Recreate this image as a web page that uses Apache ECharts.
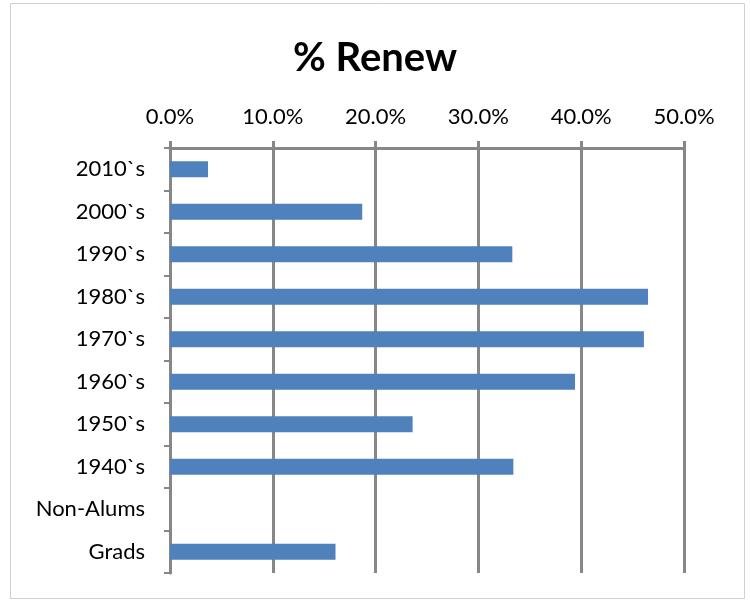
<!DOCTYPE html>
<html><head><meta charset="utf-8">
<script src="https://cdn.jsdelivr.net/npm/echarts@6/dist/echarts.min.js"></script>
<style>html,body{margin:0;padding:0;background:#fff}#c{width:750px;height:600px}</style>
</head><body><div id="c"></div>
<script>
var categories = ["2010`s","2000`s","1990`s","1980`s","1970`s","1960`s","1950`s","1940`s","Non-Alums","Grads"];
var renewValues = [0.037,0.187,0.333,0.465,0.461,0.394,0.236,0.334,0,0.161];
var xTicks = {min:0, max:0.5, interval:0.1};
var chart = echarts.init(document.getElementById('c'), null, {renderer:'canvas'});
var font = 'Lato, "Open Sans", sans-serif';
chart.setOption({
  animation:false,
  backgroundColor:'#fff',
  title:{text:'% Renew', left:'center', top:33,
    textStyle:{fontFamily:font, fontSize:40, fontWeight:'bold', color:'#000'}},
  grid:{left:170, right:66, top:148, bottom:27, containLabel:false},
  graphic:[{type:'rect', shape:{x:10.5,y:3.5,width:734,height:595}, style:{fill:null, stroke:'#d0d0d0', lineWidth:1}, silent:true}],
  xAxis:{type:'value', position:'top', min:xTicks.min, max:xTicks.max, interval:xTicks.interval,
    axisLine:{show:true, lineStyle:{color:'#878787', width:3}},
    axisTick:{show:true, length:7, lineStyle:{color:'#878787', width:3}},
    splitLine:{show:true, lineStyle:{color:'#878787', width:3}},
    axisLabel:{margin:20, fontFamily:font, fontSize:22, color:'#000',
      formatter:function(v){return (v*100).toFixed(1)+'%';}}},
  yAxis:{type:'category', inverse:true, data:categories,
    axisLine:{show:true, lineStyle:{color:'#878787', width:3}},
    axisTick:{show:true, length:6, lineStyle:{color:'#878787', width:2}},
    axisLabel:{margin:25, fontFamily:font, fontSize:22, color:'#000'}},
  series:[{type:'bar', data:renewValues, barWidth:16, itemStyle:{color:'#4F81BD'}}]
});
</script></body></html>
